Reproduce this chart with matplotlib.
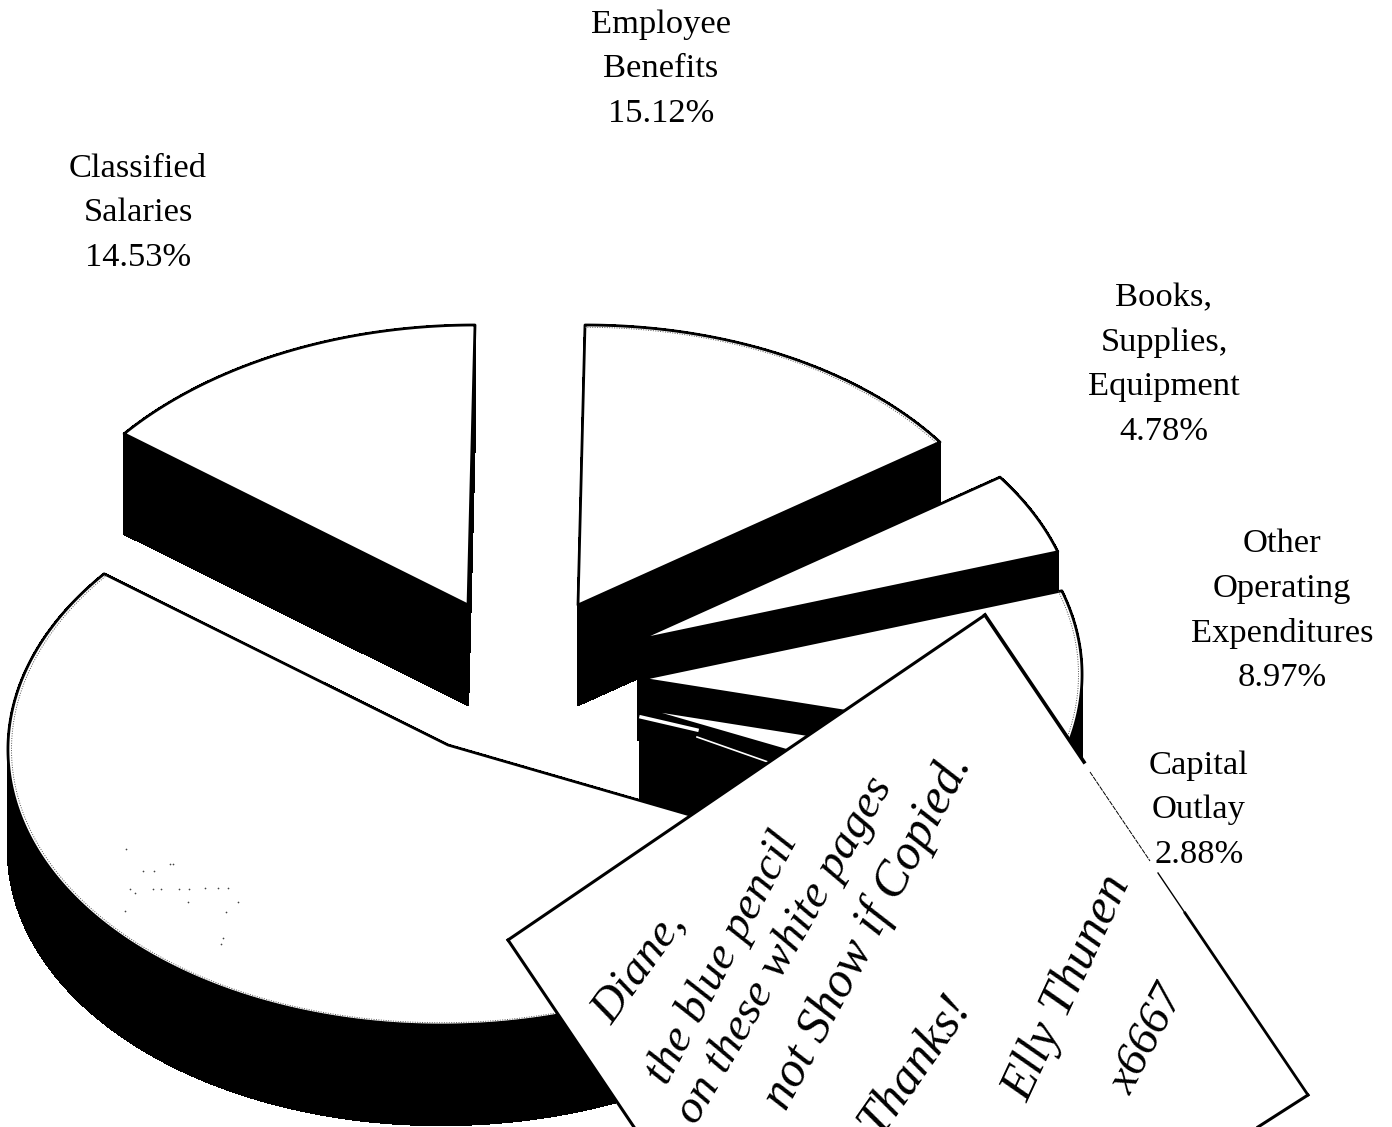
import numpy as np
import matplotlib
matplotlib.use("Agg")
import matplotlib.pyplot as plt
from matplotlib.collections import PolyCollection

# slices, clockwise from the top of the pie (last one runs back round to Classified)
slice_names = ["Employee Benefits", "Books, Supplies, Equipment", "Other Operating Expenditures",
               "Capital Outlay", "Certificated Salaries", "Classified Salaries"]
slice_values = [15.12, 4.78, 8.97, 2.88, 53.72, 14.53]

# each slice is pulled out of the pie by hand, so it has its own centre
centres = [(578, 605), (638, 640), (642, 679), (640, 708), (448, 745), (468, 605)]
draw_order = [5, 0, 1, 2, 3, 4]
dotted_rim = [0, 2, 4]

labels = ["Employee\nBenefits\n15.12%", "Classified\nSalaries\n14.53%",
          "Books,\nSupplies,\nEquipment\n4.78%", "Other\nOperating\nExpenditures\n8.97%",
          "Capital\nOutlay\n2.88%"]
label_pos = [(661, 69), (138, 213), (1164, 365), (1282, 611), (1199, 810)]

note_lines = ["Diane,", "the blue pencil", "on these white pages", "not Show if Copied.",
              "Thanks!", "Elly Thunen", "x6667"]
note_pos = [(640, 968), (722, 958), (785, 950), (868, 932), (915, 1065), (1068, 988), (1148, 1040)]
note_size = [34, 34, 34, 36, 36, 36, 34]
note_rot = [54, 62, 60, 62, 55, 65, 62]

speck_x = [126, 143, 154, 130, 135, 153, 161, 179, 189, 205, 218, 228, 173, 188, 238, 226, 125, 223, 221, 170]
speck_y = [849, 871, 871, 889, 893, 889, 889, 889, 889, 888, 888, 888, 864, 902, 902, 912, 911, 938, 944, 864]

RX, RY = 440, 280
DEPTH = 100
SHEAR = 0.025  # the scan leans a little to the right

fig = plt.figure(figsize=(13.92, 11.27), dpi=100)
ax = fig.add_axes([0, 0, 1, 1])
ax.set_xlim(0, 1392)
ax.set_ylim(1127, 0)
ax.axis("off")


def outline(i, scale=1.0):
    start = 90 - sum(slice_values[:i]) * 3.6
    stop = start - slice_values[i] * 3.6
    t = np.radians(np.linspace(start, stop, 240))
    cx, cy = centres[i]
    up = scale * RY * np.sin(t)
    xs = cx + scale * RX * np.cos(t) + SHEAR * up
    ys = cy - up
    return np.column_stack([xs, ys])


z = 2
for i in draw_order:
    rim = outline(i)
    cx, cy = centres[i]
    poly = np.vstack([[cx, cy], rim, [cx, cy]])
    # side wall: sweep every edge of the top straight down
    quads = [[poly[k], poly[k + 1], poly[k + 1] + (0, DEPTH), poly[k] + (0, DEPTH)]
             for k in range(len(poly) - 1)]
    ax.add_collection(PolyCollection(quads, facecolors="black", edgecolors="black", linewidths=1.0,
                                     antialiaseds=False, zorder=z))
    ax.fill(poly[:, 0], poly[:, 1], facecolor="white", edgecolor="black", linewidth=2.0,
            joinstyle="round", zorder=z + 1)
    if i in dotted_rim:
        inner = outline(i, 0.992)
        ax.plot(inner[:, 0], inner[:, 1], color="#555555", linestyle=(0, (1, 1.5)), linewidth=0.7, zorder=z + 1)
    z += 2

# thin white break in the wall under the small Capital Outlay slice
ax.plot([697, 768], [737, 762], color="white", linewidth=1.2, zorder=13)
ax.plot([641, 697], [717, 730], color="white", linewidth=2.5, zorder=13)

ax.scatter(speck_x, speck_y, s=1.5, color="#444444", linewidths=0, zorder=14)

for txt, (x, y) in zip(labels, label_pos):
    ax.text(x, y, txt, ha="center", va="center", family="Liberation Serif", fontsize=24.8,
            linespacing=1.59, color="black", zorder=15)

# note stuck over the chart
corners = np.array([[508, 940], [985, 615], [1308, 1095], [831, 1420]])
note = ax.fill(corners[:, 0], corners[:, 1], facecolor="white", edgecolor="none", zorder=20)[0]
ax.plot([508, 985], [940, 615], color="black", linewidth=2.2, zorder=21)
ax.plot([508, 640], [940, 1136], color="black", linewidth=2.2, zorder=21)
ax.plot([985, 1084], [615, 762], color="black", linewidth=2.6, zorder=21)
ax.plot([1090, 1150], [772, 861], color="black", linewidth=0.7, linestyle=(0, (5, 1)), zorder=21)
ax.plot([1158, 1185], [873, 913], color="black", linewidth=1.0, zorder=21)
ax.plot([1185, 1308], [913, 1095], color="black", linewidth=2.0, zorder=21)
ax.plot([1308, 1258], [1095, 1127], color="black", linewidth=2.2, zorder=21)

for txt, (x, y), s, r in zip(note_lines, note_pos, note_size, note_rot):
    t = ax.text(x, y, txt, ha="center", va="center", rotation=r, rotation_mode="anchor",
                family="Liberation Serif", style="italic", fontsize=s, color="black", zorder=22)
    t.set_clip_path(note)

fig.savefig("out.png", dpi=100)
